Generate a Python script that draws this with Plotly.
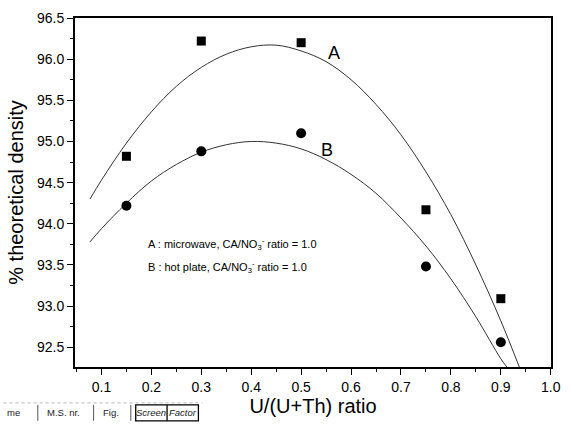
import plotly.graph_objects as go

# Measured points
x_pts = [0.15, 0.30, 0.50, 0.75, 0.90]
a_pts = [94.82, 96.22, 96.20, 94.17, 93.09]   # A : microwave (squares)
b_pts = [94.22, 94.88, 95.10, 93.48, 92.56]   # B : hot plate (circles)

# Fitted curves
a_curve_x = [0.077, 0.10, 0.15, 0.20, 0.25, 0.30, 0.35, 0.40, 0.45, 0.50, 0.55,
             0.60, 0.65, 0.70, 0.75, 0.80, 0.85, 0.90, 0.937]
a_curve_y = [94.30, 94.53, 94.98, 95.36, 95.67, 95.90, 96.06, 96.15, 96.17, 96.10, 95.97,
             95.75, 95.45, 95.08, 94.63, 94.11, 93.50, 92.82, 92.26]
b_curve_x = [0.077, 0.10, 0.15, 0.20, 0.25, 0.30, 0.35, 0.40, 0.45, 0.50, 0.55,
             0.60, 0.65, 0.70, 0.75, 0.80, 0.85, 0.90, 0.912]
b_curve_y = [93.78, 93.94, 94.25, 94.52, 94.72, 94.87, 94.96, 95.00, 94.98, 94.91, 94.78,
             94.60, 94.37, 94.07, 93.73, 93.33, 92.87, 92.36, 92.26]

FONT = "Liberation Sans, Arial, sans-serif"

fig = go.Figure()
fig.add_trace(go.Scatter(x=a_curve_x, y=a_curve_y, mode="lines",
                         line=dict(color="#333333", width=1, shape="spline"),
                         showlegend=False, hoverinfo="skip"))
fig.add_trace(go.Scatter(x=b_curve_x, y=b_curve_y, mode="lines",
                         line=dict(color="#333333", width=1, shape="spline"),
                         showlegend=False, hoverinfo="skip"))
fig.add_trace(go.Scatter(x=x_pts, y=a_pts, mode="markers", name="A",
                         marker=dict(symbol="square", size=9, color="black"),
                         showlegend=False))
fig.add_trace(go.Scatter(x=x_pts, y=b_pts, mode="markers", name="B",
                         marker=dict(symbol="circle", size=10, color="black"),
                         showlegend=False))

# curve labels
fig.add_annotation(x=0.566, y=96.08, text="A", showarrow=False,
                   font=dict(family=FONT, size=18, color="black"))
fig.add_annotation(x=0.552, y=94.90, text="B", showarrow=False,
                   font=dict(family=FONT, size=18, color="black"))
fig.add_annotation(x=0.190, y=93.75, xanchor="left", yanchor="middle", showarrow=False,
                   text="A : microwave, CA/NO<sub>3</sub><sup>-</sup> ratio = 1.0",
                   font=dict(family=FONT, size=11, color="black"))
fig.add_annotation(x=0.190, y=93.47, xanchor="left", yanchor="middle", showarrow=False,
                   text="B : hot plate, CA/NO<sub>3</sub><sup>-</sup> ratio = 1.0",
                   font=dict(family=FONT, size=11, color="black"))

# footer stamp (scan artifact) in paper coords: plot area px x 75..561, y 17..367
def px(xp):
    return (xp - 75) / 486.0

def py(yp):
    return (367 - yp) / 350.0

footer = [("me", 12, False), ("M.S. nr.", 63, False), ("Fig.", 112, False),
          ("Screen", 153, True), ("Factor", 185, True)]
for txt, xc, it in footer:
    fig.add_annotation(xref="paper", yref="paper", x=px(xc), y=py(413),
                       xanchor="center", yanchor="middle",
                       text=("<i>%s</i>" % txt) if it else txt,
                       showarrow=False, font=dict(family=FONT, size=9.5, color="#222222"))
for xs in [37, 94, 132]:
    fig.add_shape(type="line", xref="paper", yref="paper", x0=px(xs), x1=px(xs), y0=py(405), y1=py(421),
                  line=dict(color="#555555", width=1))
fig.add_shape(type="rect", xref="paper", yref="paper", x0=px(137), x1=px(201), y0=py(421), y1=py(405),
              line=dict(color="black", width=1.3))
fig.add_shape(type="line", xref="paper", yref="paper", x0=px(169), x1=px(169), y0=py(405), y1=py(421),
              line=dict(color="black", width=1.3))
fig.add_shape(type="line", xref="paper", yref="paper", x0=px(2), x1=px(205), y0=py(403), y1=py(403),
              line=dict(color="#bbbbbb", width=1, dash="dot"))

axis_common = dict(showline=True, linecolor="black", linewidth=1.8, mirror=True,
                   ticks="outside", tickcolor="black", tickwidth=1.4, ticklen=6,
                   showgrid=False, zeroline=False,
                   tickfont=dict(family=FONT, size=14, color="black"))

fig.update_xaxes(range=[0.047, 1.0005], dtick=0.1, tick0=0.1, tickformat=".1f",
                 minor=dict(ticks="outside", dtick=0.05, tick0=0.05, ticklen=3, tickcolor="black", tickwidth=1.2),
                 title=dict(text="U/(U+Th) ratio", font=dict(family=FONT, size=20, color="black"), standoff=4),
                 **axis_common)
fig.update_yaxes(range=[92.26, 96.5], dtick=0.5, tick0=92.5, tickformat=".1f",
                 minor=dict(ticks="outside", dtick=0.25, tick0=92.25, ticklen=3, tickcolor="black", tickwidth=1.2),
                 title=dict(text="% theoretical density", font=dict(family=FONT, size=20, color="black"), standoff=8),
                 **axis_common)

fig.update_layout(width=571, height=424, margin=dict(l=75, r=10, t=17, b=57),
                  paper_bgcolor="white", plot_bgcolor="white",
                  font=dict(family=FONT, color="black"))

fig.write_html("out.html", config={"displayModeBar": False},
               post_script="document.body.style.margin='0';")
